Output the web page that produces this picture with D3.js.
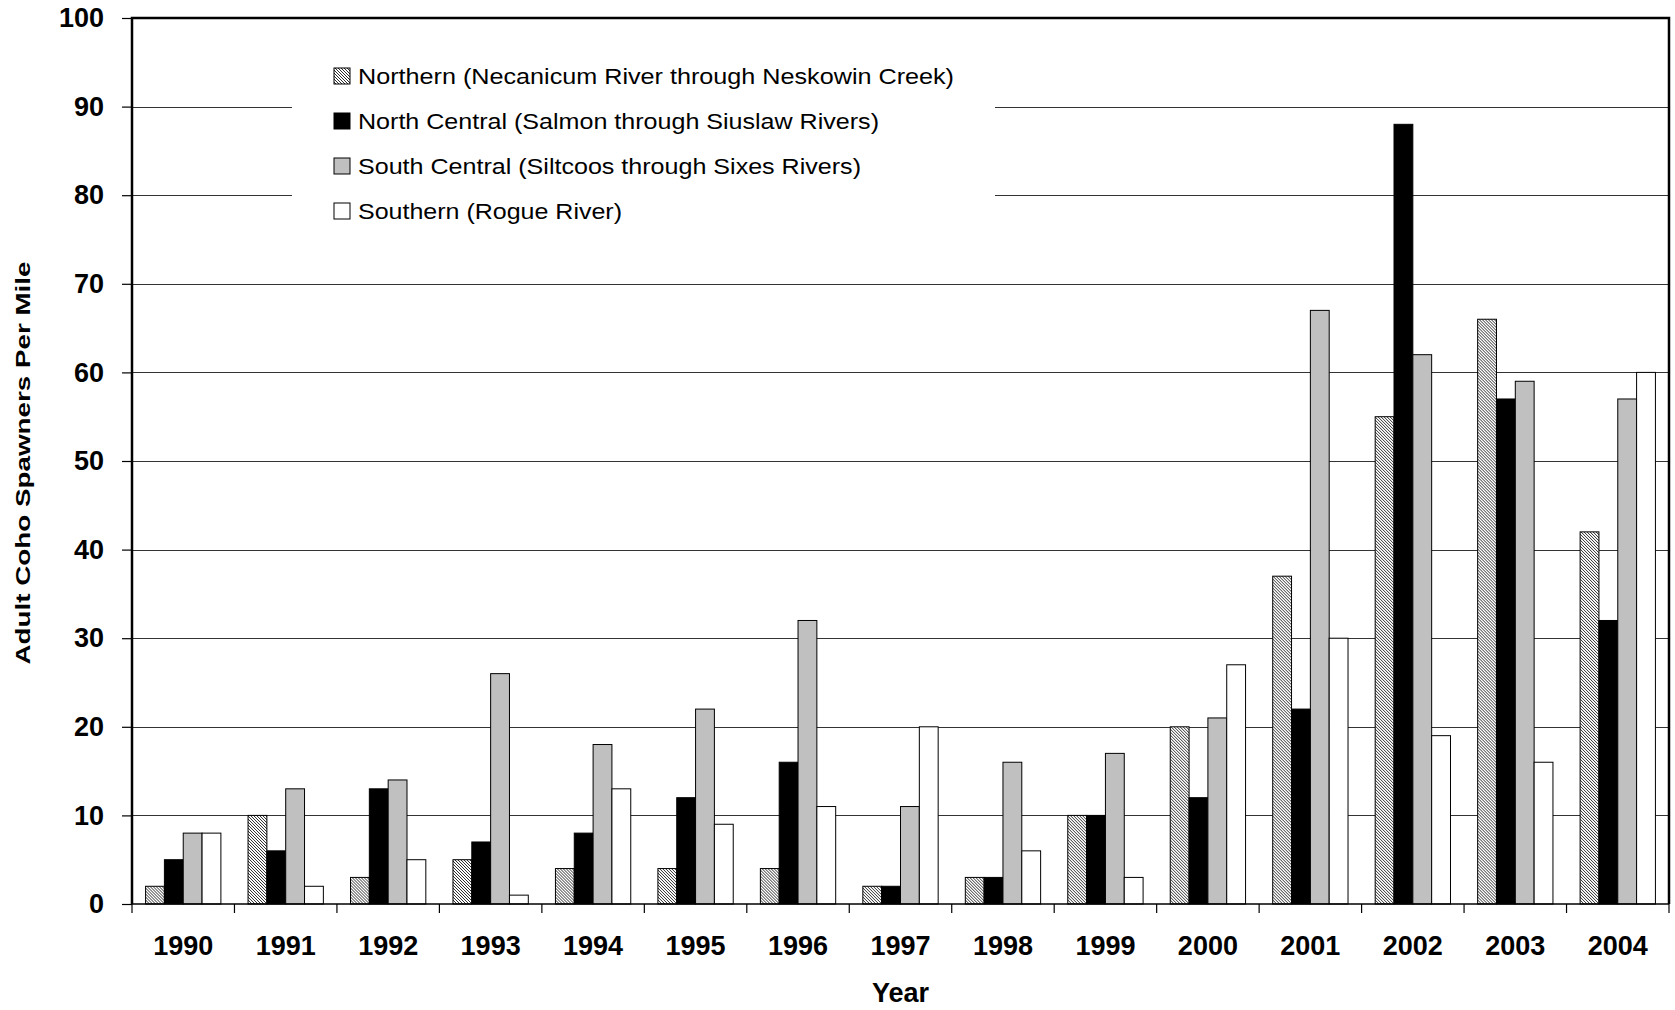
<!DOCTYPE html>
<meta charset="utf-8">
<script src="https://d3js.org/d3.v7.min.js"></script>
<style>
body { margin: 0; background: #fff; }
text { font-family: "Liberation Sans", Arial, sans-serif; }
</style>
<body>
</body>
<script>

// data
var years = ["1990","1991","1992","1993","1994","1995","1996","1997","1998","1999","2000","2001","2002","2003","2004"];
var seriesNames = [
  "Northern (Necanicum River through Neskowin Creek)",
  "North Central (Salmon through Siuslaw Rivers)",
  "South Central (Siltcoos through Sixes Rivers)",
  "Southern (Rogue River)"
];
var northern     = [2, 10, 3, 5, 4, 4, 4, 2, 3, 10, 20, 37, 55, 66, 42];
var northCentral = [5, 6, 13, 7, 8, 12, 16, 2, 3, 10, 12, 22, 88, 57, 32];
var southCentral = [8, 13, 14, 26, 18, 22, 32, 11, 16, 17, 21, 67, 62, 59, 57];
var southern     = [8, 2, 5, 1, 13, 9, 11, 20, 6, 3, 27, 30, 19, 16, 60];
var yTicks = [0, 10, 20, 30, 40, 50, 60, 70, 80, 90, 100];

var allSeries = [northern, northCentral, southCentral, southern];
var fills = ["url(#hatch)", "#000000", "#c0c0c0", "#ffffff"];

var margin = {top: 18, right: 6, bottom: 106, left: 132};
var width = 1675 - margin.left - margin.right;
var height = 1010 - margin.top - margin.bottom;

var root = d3.select("body").append("svg")
  .attr("width", 1675)
  .attr("height", 1010);

// hatch pattern for Northern series
var pat = root.append("defs").append("pattern")
  .attr("id", "hatch")
  .attr("patternUnits", "userSpaceOnUse")
  .attr("width", 3)
  .attr("height", 3);
pat.append("rect").attr("width", 3).attr("height", 3).attr("fill", "#fff");
pat.append("path")
  .attr("d", "M-1,-1 L4,4 M-1,2 L1,4 M2,-1 L4,1")
  .attr("stroke", "#222")
  .attr("stroke-width", 0.95);

var svg = root.append("g")
  .attr("transform", "translate(" + margin.left + "," + margin.top + ")");

var x0 = d3.scaleBand()
  .domain(years)
  .range([0, width])
  .paddingInner(0.265)
  .paddingOuter(0.1325);

var x1 = d3.scaleBand()
  .domain(d3.range(4))
  .range([0, x0.bandwidth()]);

var y = d3.scaleLinear()
  .domain([0, 100])
  .range([height, 0]);

// gridlines
svg.append("g")
  .selectAll("line")
  .data(yTicks.filter(function(d) { return d > 0 && d < 100; }))
  .enter().append("line")
  .attr("x1", 0)
  .attr("x2", width)
  .attr("y1", function(d) { return Math.round(y(d)) + 0.5; })
  .attr("y2", function(d) { return Math.round(y(d)) + 0.5; })
  .attr("stroke", "#333")
  .attr("stroke-width", 1);

// legend backdrop hides the gridlines behind it
svg.append("rect")
  .attr("x", 292 - margin.left)
  .attr("y", 40 - margin.top)
  .attr("width", 703)
  .attr("height", 200)
  .attr("fill", "#fff");

// bars
var groups = svg.selectAll(".year")
  .data(years)
  .enter().append("g")
  .attr("class", "year")
  .attr("transform", function(d) { return "translate(" + x0(d) + ",0)"; });

groups.selectAll("rect")
  .data(function(d, i) { return allSeries.map(function(s, k) { return {k: k, v: s[i]}; }); })
  .enter().append("rect")
  .attr("x", function(d) { return x1(d.k); })
  .attr("y", function(d) { return y(d.v); })
  .attr("width", x1.bandwidth())
  .attr("height", function(d) { return height - y(d.v); })
  .attr("fill", function(d) { return fills[d.k]; })
  .attr("stroke", "#000")
  .attr("stroke-width", 1);

// x axis
var xAxis = svg.append("g")
  .attr("transform", "translate(0," + height + ")");
xAxis.append("line")
  .attr("x1", 0).attr("x2", width)
  .attr("stroke", "#000").attr("stroke-width", 1.5);
xAxis.selectAll(".tk")
  .data(d3.range(years.length + 1))
  .enter().append("line")
  .attr("x1", function(i) { return i * x0.step(); })
  .attr("x2", function(i) { return i * x0.step(); })
  .attr("y1", 0).attr("y2", 9)
  .attr("stroke", "#000").attr("stroke-width", 1.2);
xAxis.selectAll(".lbl")
  .data(years)
  .enter().append("text")
  .attr("x", function(d) { return x0(d) + x0.bandwidth() / 2; })
  .attr("y", 51)
  .attr("text-anchor", "middle")
  .style("font-size", "27px")
  .style("font-weight", "bold")
  .text(function(d) { return d; });

// y axis
var yAxis = svg.append("g")
  .call(d3.axisLeft(y).tickValues(yTicks).tickSize(10).tickPadding(18));
yAxis.select(".domain").remove();
yAxis.selectAll(".tick line").attr("stroke", "#000").attr("stroke-width", 1.2);
yAxis.selectAll(".tick text")
  .style("font-family", "'Liberation Sans', Arial, sans-serif")
  .style("font-size", "27px")
  .style("font-weight", "bold")
  .attr("fill", "#000");

// frame: left, top, right
svg.append("path")
  .attr("d", "M0," + height + "V0H" + width + "V" + height)
  .attr("fill", "none")
  .attr("stroke", "#000")
  .attr("stroke-width", 2.5);

// legend
var legend = svg.append("g")
  .attr("transform", "translate(" + (334 - margin.left) + "," + (76 - margin.top) + ")");
var rowH = 45;
var legendTargets = [596, 521, 503, 264];
seriesNames.forEach(function(name, k) {
  var row = legend.append("g").attr("transform", "translate(0," + (k * rowH) + ")");
  row.append("rect")
    .attr("x", 0).attr("y", -8)
    .attr("width", 16).attr("height", 16)
    .attr("fill", fills[k])
    .attr("stroke", "#000")
    .attr("stroke-width", 1);
  row.append("text")
    .attr("x", 24)
    .attr("y", 8)
    .attr("textLength", legendTargets[k])
    .attr("lengthAdjust", "spacingAndGlyphs")
    .style("font-size", "22px")
    .text(name);
});

// axis titles
root.append("text")
  .attr("x", margin.left + width / 2)
  .attr("y", 1002)
  .attr("text-anchor", "middle")
  .style("font-size", "27px")
  .style("font-weight", "bold")
  .text("Year");

root.append("text")
  .attr("transform", "translate(30,463) rotate(-90)")
  .attr("text-anchor", "middle")
  .attr("textLength", 403)
  .attr("lengthAdjust", "spacingAndGlyphs")
  .style("font-size", "20px")
  .style("font-weight", "bold")
  .text("Adult Coho Spawners Per Mile");

</script>
